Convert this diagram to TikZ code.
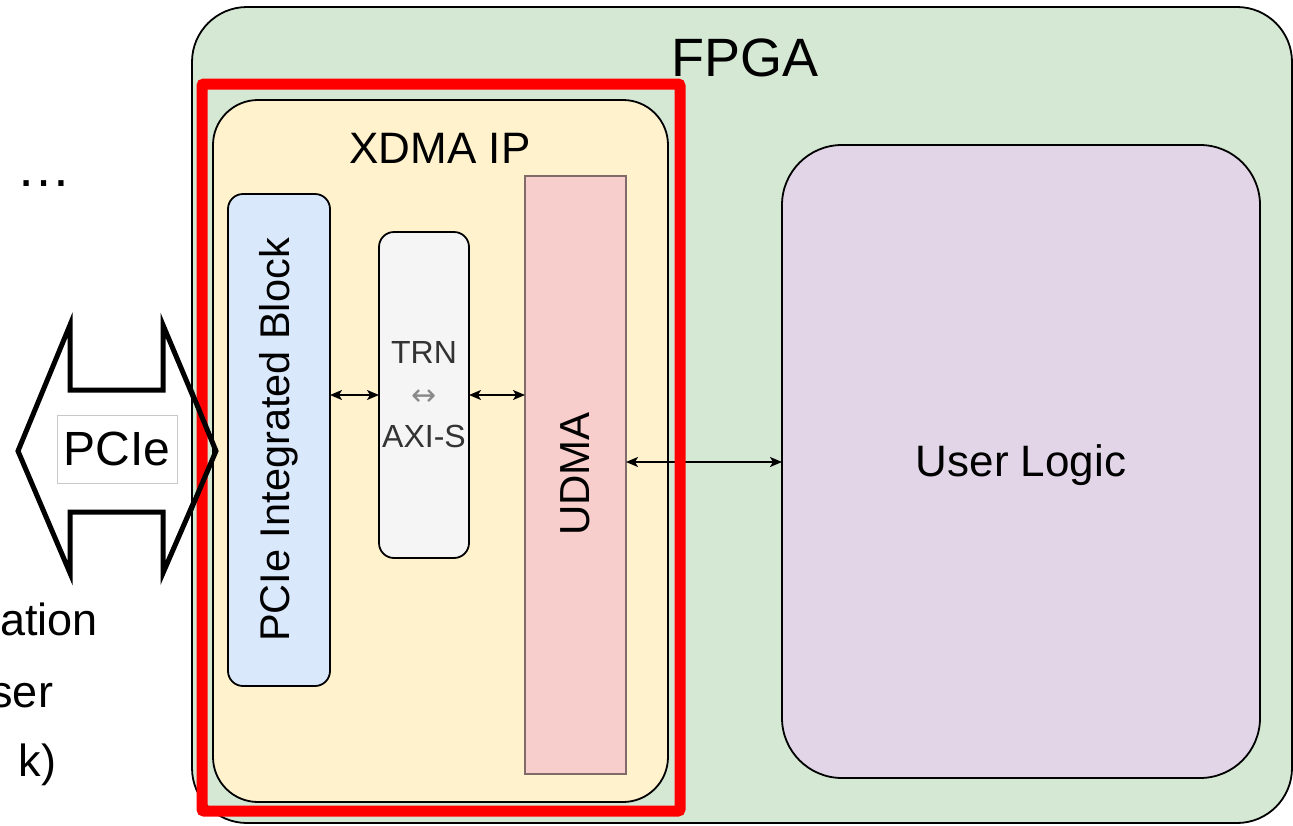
\documentclass[tikz,border=0pt]{standalone}
\usepackage{fontspec}
\setmainfont{Liberation Sans}
\newfontfamily\djv{DejaVu Sans}
\usetikzlibrary{arrows.meta}
\definecolor{fpgag}{HTML}{D5E8D4}
\definecolor{xdmay}{HTML}{FFF2CC}
\definecolor{pcieb}{HTML}{DAE8FC}
\definecolor{trnf}{HTML}{F5F5F5}
\definecolor{udmar}{HTML}{F8CECC}
\definecolor{userp}{HTML}{E1D5E7}
\definecolor{trntxt}{HTML}{333333}
\definecolor{udmaedge}{HTML}{806A6A}
\definecolor{lblgray}{HTML}{C8C8C8}
\definecolor{arrgray}{HTML}{8A8A8A}
\begin{document}
\begin{tikzpicture}[x=1pt,y=-1pt,
  box/.style={draw=black, line width=1.8pt, inner sep=0pt, outer sep=0pt},
  txt/.style={inner sep=0pt, outer sep=0pt, text=black},
  conn/.style={line width=1.6pt, {Stealth[length=12pt,width=10pt,inset=3pt]}-{Stealth[length=12pt,width=10pt,inset=3pt]}, shorten <=0pt, shorten >=0pt}
]
\useasboundingbox (0,0) rectangle (1293,825);

% left fragment texts
\node[txt, anchor=base, font=\fontsize{55}{60}\selectfont] (dots) at (44,186) {…};
\node[txt, anchor=base east, font=\fontsize{45}{50}\selectfont] (t1) at (98,635) {ation};
\node[txt, anchor=base east, font=\fontsize{45}{50}\selectfont] (t2) at (53,707) {ser};
\node[txt, anchor=base east, font=\fontsize{45}{50}\selectfont] (t3) at (56,776) {k)};

% PCIe double arrow (fill)
\path[fill=white, draw=black, line width=5pt, line join=miter]
  (18,451) -- (70,325) -- (70,390) -- (163,390) -- (163,325) -- (216,451)
  -- (163,573) -- (163,512) -- (70,512) -- (70,573) -- cycle;

% FPGA
\node[box, fill=fpgag, rounded corners=55pt, minimum width=1100pt, minimum height=816pt] (fpga) at (742,415) {};
\node[txt, anchor=base, font=\fontsize{54}{60}\selectfont] (fpgalbl) at (745,76) {FPGA};

% XDMA IP
\node[box, fill=xdmay, rounded corners=45pt, minimum width=455pt, minimum height=702pt] (xdma) at (440.5,451) {};
\node[txt, anchor=base, font=\fontsize{44}{50}\selectfont] (xdmalbl) at (440,163) {XDMA IP};

% PCIe Integrated Block
\node[box, fill=pcieb, rounded corners=15pt, minimum width=102pt, minimum height=492pt] (pcie) at (279,440) {};
\node[txt, rotate=90, font=\fontsize{41.5}{48}\selectfont] (pcielbl) at (279,440) {PCIe Integrated Block};

% TRN <-> AXI-S
\node[box, fill=trnf, rounded corners=15pt, minimum width=90pt, minimum height=326pt] (trn) at (424,395) {};
\node[txt, text=trntxt, align=center, font=\fontsize{32}{42}\selectfont] (trnlbl) at (424,395)
  {TRN\\{\djv\fontsize{30}{42}\selectfont\color{arrgray}↔}\\AXI-S};

% UDMA
\node[box, draw=udmaedge, fill=udmar, minimum width=101pt, minimum height=598pt] (udma) at (575.5,475) {};
\node[txt, rotate=90, font=\fontsize{42}{48}\selectfont] (udmalbl) at (575.5,474) {UDMA};

% User Logic
\node[box, fill=userp, rounded corners=60pt, minimum width=478pt, minimum height=633pt] (user) at (1021,461.5) {};
\node[txt, font=\fontsize{44}{50}\selectfont] (userlbl) at (1021,465) {User Logic};

% connectors
\draw[conn] (pcie.east |- 0,395) -- (trn.west |- 0,395);
\draw[conn] (trn.east |- 0,395) -- (udma.west |- 0,395);
\draw[conn] (udma.east |- 0,462) -- (user.west |- 0,462);

% red highlight
\node[draw=red, line width=11pt, rounded corners=2pt, inner sep=0pt, minimum width=478pt, minimum height=727pt] (hl) at (441,447.5) {};

% PCIe arrow tip over the frame
\draw[black, line width=5pt, line join=miter] (190,388) -- (216,451) -- (190,512);

% PCIe label
\node[draw=lblgray, line width=1pt, fill=white, minimum width=120pt, minimum height=68pt, inner sep=0pt,
  font=\fontsize{48}{50}\selectfont] (pcielabel) at (117,449) {PCIe};
\end{tikzpicture}
\end{document}
